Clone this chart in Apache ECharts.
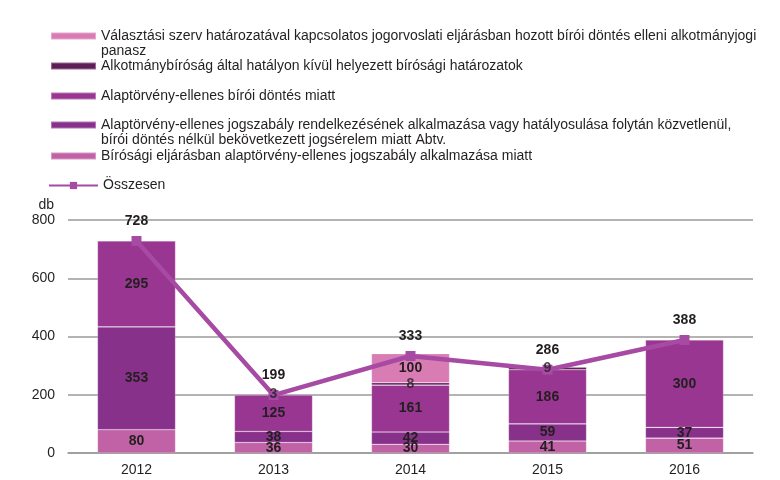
<!DOCTYPE html>
<html>
<head>
<meta charset="utf-8">
<script src="https://cdn.jsdelivr.net/npm/echarts@6/dist/echarts.min.js"></script>
<style>html,body{margin:0;padding:0;background:#fff}#c{width:780px;height:480px}</style>
</head>
<body>
<div id="c"></div>
<script>
var years = ['2012', '2013', '2014', '2015', '2016'];
var nameValasztasi = 'Választási szerv határozatával kapcsolatos jogorvoslati eljárásban hozott bírói döntés elleni alkotmányjogi panasz';
var nameHatalyon = 'Alkotmánybíróság által hatályon kívül helyezett bírósági határozatok';
var nameBiroi = 'Alaptörvény-ellenes bírói döntés miatt';
var nameJogszabaly = 'Alaptörvény-ellenes jogszabály rendelkezésének alkalmazása vagy hatályosulása folytán közvetlenül, bírói döntés nélkül bekövetkezett jogsérelem miatt Abtv.';
var nameBirosagi = 'Bírósági eljárásban alaptörvény-ellenes jogszabály alkalmazása miatt';
var nameTotal = 'Összesen';

var birosagi = [80, 36, 30, 41, 51];
var jogszabaly = [353, 38, 42, 59, 37];
var biroi = [295, 125, 161, 186, 300];
var hatalyon = [null, 3, 8, 9, null];
var valasztasi = [null, null, 100, null, null];
var total = [728, 199, 333, 286, 388];
var yTicks = [0, 200, 400, 600, 800];

var FONT = 'Liberation Sans, Arial, sans-serif';
var labelStyle = {show: true, position: 'inside', color: '#231F20', fontWeight: 'bold', fontSize: 14, fontFamily: FONT,
  formatter: function (p) { return p.value == null ? '' : p.value; }};

function bar(name, data, color, noLabel) {
  return {name: name, type: 'bar', stack: 'a', data: data, barWidth: '57%',
    itemStyle: {color: color, borderColor: 'rgba(255,255,255,0.35)', borderWidth: 0.6},
    label: noLabel ? {show: false} : labelStyle, emphasis: {disabled: true}};
}

function legend(name, y, lines) {
  return {data: [name], orient: 'vertical', left: 50, top: y, padding: 0, itemWidth: 45, itemHeight: 7, itemGap: 0,
    icon: 'rect', selectedMode: false,
    textStyle: {color: '#231F20', fontSize: 14, fontFamily: FONT, lineHeight: 15},
    formatter: function (n) { return lines ? ' \n' + lines : n; }};
}

// label positions for the thin "hatályon kívül" segment, drawn above the total line
var hatalyonLabels = years.map(function (y, i) {
  if (hatalyon[i] == null) return null;
  var base = birosagi[i] + jogszabaly[i] + biroi[i];
  return {value: [i, base + hatalyon[i] / 2], label: {formatter: String(hatalyon[i])}};
}).filter(Boolean);

var chart = echarts.init(document.getElementById('c'));
chart.setOption({
  animation: false,
  grid: {left: 68, right: 27, top: 220, bottom: 27},
  legend: [
    legend(nameValasztasi, 13.5, 'Választási szerv határozatával kapcsolatos jogorvoslati eljárásban hozott bírói döntés elleni alkotmányjogi\npanasz'),
    legend(nameHatalyon, 58.5),
    legend(nameBiroi, 88.5),
    legend(nameJogszabaly, 102.5, 'Alaptörvény-ellenes jogszabály rendelkezésének alkalmazása vagy hatályosulása folytán közvetlenül,\nbírói döntés nélkül bekövetkezett jogsérelem miatt Abtv.'),
    legend(nameBirosagi, 148.5),
    {data: [{name: nameTotal}], left: 48, top: 178.5, padding: 0, itemWidth: 49, itemHeight: 9, selectedMode: false,
      textStyle: {color: '#231F20', fontSize: 14, fontFamily: FONT}}
  ],
  xAxis: {type: 'category', data: years,
    axisLine: {lineStyle: {color: '#9a9a9a', width: 1.5}}, axisTick: {show: false},
    axisLabel: {color: '#231F20', fontSize: 14, fontFamily: FONT, margin: 10}},
  yAxis: {type: 'value', min: yTicks[0], max: yTicks[yTicks.length - 1], interval: 200,
    name: 'db', nameLocation: 'end', nameGap: 8,
    nameTextStyle: {color: '#231F20', fontSize: 14, fontFamily: FONT, align: 'right', padding: [0, 14, 0, 0]},
    axisLine: {show: false}, axisTick: {show: false},
    splitLine: {lineStyle: {color: '#9a9a9a', width: 1.5}},
    axisLabel: {color: '#231F20', fontSize: 14, fontFamily: FONT, margin: 13}},
  series: [
    bar(nameBirosagi, birosagi, '#C062A5'),
    bar(nameJogszabaly, jogszabaly, '#87318B'),
    bar(nameBiroi, biroi, '#993691'),
    bar(nameHatalyon, hatalyon, '#5E1D56', true),
    bar(nameValasztasi, valasztasi, '#D97CB4'),
    {name: nameTotal, type: 'line', data: total, symbol: 'rect', symbolSize: 10,
      lineStyle: {color: '#A64AA3', width: 4.5}, itemStyle: {color: '#A64AA3'},
      label: {show: true, position: 'top', distance: 8, color: '#231F20', fontWeight: 'bold', fontSize: 14, fontFamily: FONT},
      emphasis: {disabled: true}, z: 10},
    {name: 'hatalyonLabels', type: 'scatter', data: hatalyonLabels, symbolSize: 0, z: 20, silent: true,
      label: {show: true, position: 'inside', color: '#231F20', fontWeight: 'bold', fontSize: 14, fontFamily: FONT},
      emphasis: {disabled: true}}
  ]
});
</script>
</body>
</html>
